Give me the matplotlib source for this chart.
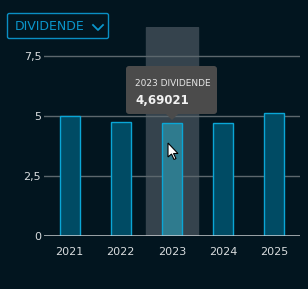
import matplotlib
matplotlib.use("Agg")
from matplotlib import pyplot as plt
from matplotlib.patches import FancyBboxPatch, Polygon

years = ['2021', '2022', '2023', '2024', '2025']
dividende = [4.98, 4.75, 4.69021, 4.71, 5.13]
yticks = [0, 2.5, 5, 7.5]
ytick_labels = ['0', '2,5', '5', '7,5']
selected = 2

bg = '#02151f'
W, H = 308, 289

fig = plt.figure(figsize=(W / 100, H / 100), dpi=100, facecolor=bg)
ax = fig.add_axes([44 / W, 53 / H, 256 / W, 209 / H], facecolor=bg)

x = list(range(len(years)))
# highlight band behind the selected year
ax.axvspan(selected - 0.5, selected + 0.5, color='#35434d', zorder=0)

for i, v in enumerate(dividende):
    fc = '#2f7b8e' if i == selected else '#004b64'
    ax.bar(i, v, width=0.39, color=fc, edgecolor='#0aa6d6', linewidth=1, zorder=2)

for t in yticks[1:]:
    ax.axhline(t, color='#5c676d', linewidth=1, zorder=1)
ax.axhline(0, color='#c9cdd0', linewidth=1.8, zorder=3)

ax.set_xlim(-0.5, 4.5)
ax.set_ylim(0, 209 / 24)
ax.set_xticks(x)
ax.set_xticklabels(years)
ax.set_yticks(yticks)
ax.set_yticklabels(ytick_labels)
ax.tick_params(colors='#d8dcde', labelsize=8, length=0, pad=2)
ax.tick_params(axis='x', pad=8)
for s in ax.spines.values():
    s.set_visible(False)

# dropdown button
fig.patches.append(FancyBboxPatch((7.5 / W, 1 - 38.5 / H), 101 / W, 25 / H,
                                  boxstyle='round,pad=0,rounding_size=0.006',
                                  transform=fig.transFigure, facecolor='none',
                                  edgecolor='#0a8fc4', linewidth=1))
fig.text(15 / W, 1 - 26 / H, 'DIVIDENDE', color='#0a96cc', fontsize=9,
         va='center', ha='left')
fig.lines.append(plt.Line2D([93 / W, 98 / W, 103 / W],
                            [1 - 25 / H, 1 - 30 / H, 1 - 25 / H],
                            transform=fig.transFigure, color='#0a96cc', linewidth=1.3))

# tooltip
fig.patches.append(FancyBboxPatch((126 / W, 1 - 114 / H), 91 / W, 48 / H,
                                  boxstyle='round,pad=0,rounding_size=0.01',
                                  transform=fig.transFigure, facecolor='#4b4b4b',
                                  edgecolor='none', zorder=5))
fig.patches.append(Polygon([(166 / W, 1 - 114 / H), (178 / W, 1 - 114 / H),
                            (172 / W, 1 - 120 / H)], closed=True,
                           transform=fig.transFigure, facecolor='#4b4b4b',
                           edgecolor='none', zorder=5))
fig.text(135 / W, 1 - 84 / H, years[selected] + ' DIVIDENDE', color='#e6e6e6',
         fontsize=6.5, va='center', ha='left', zorder=6)
fig.text(135 / W, 1 - 101 / H, f'{dividende[selected]:.5f}'.replace('.', ','),
         color='#f2f2f2', fontsize=8.5, fontweight='bold', va='center', ha='left', zorder=6)

# mouse cursor
cx, cy = 168, 143
cur = [(0, 0), (0, 14), (3.5, 11), (6, 16.5), (8, 15.5), (5.5, 10.5), (10, 10.5)]
fig.patches.append(Polygon([((cx + a) / W, 1 - (cy + b) / H) for a, b in cur],
                           closed=True, transform=fig.transFigure,
                           facecolor='white', edgecolor='black', linewidth=0.8, zorder=7))

fig.savefig('out.png', dpi=100, facecolor=bg)
